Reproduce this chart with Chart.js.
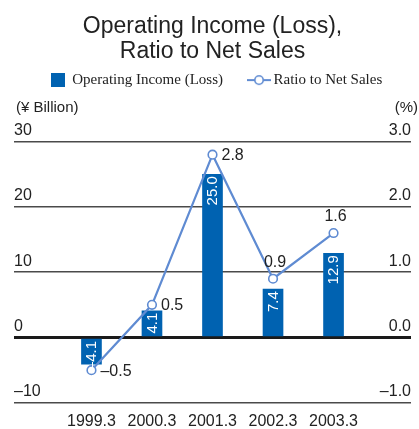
<!DOCTYPE html>
<html>
<head>
<meta charset="utf-8">
<script src="https://cdn.jsdelivr.net/npm/chart.js@4"></script>
<style>
  html, body { margin: 0; padding: 0; background: #fff; }
  #wrap { width: 419px; height: 429px; }
</style>
</head>
<body>
<div id="wrap"><canvas id="c" width="419" height="429"></canvas></div>
<script>
// Fiscal years (March year-end)
const categories = ['1999.3', '2000.3', '2001.3', '2002.3', '2003.3'];
// Operating income (loss), ¥ billion
const operatingIncome = [-4.1, 4.1, 25.0, 7.4, 12.9];
// Operating income to net sales, %
const ratioToNetSales = [-0.5, 0.5, 2.8, 0.9, 1.6];
// Axis tick values
const incomeTicks = [-10, 0, 10, 20, 30];
const ratioTicks = [-1.0, 0.0, 1.0, 2.0, 3.0];

const BAR_BLUE = '#0062b1';
const LINE_BLUE = '#5f8bd2';
const TEXT = '#222222';
const SANS = '"Liberation Sans", Arial, Helvetica, sans-serif';
const SERIF = '"Liberation Serif", "Times New Roman", serif';

// where each ratio label sits relative to its marker
const ratioLabelPlacement = ['right', 'right', 'right', 'top', 'top'];

const fmt = v => (v < 0 ? '\u2013' + Math.abs(v).toFixed(1) : v.toFixed(1));
const fmtInt = v => (v < 0 ? '\u2013' + Math.abs(v) : String(v));

// legend swatches
function squareSwatch() {
  const c = document.createElement('canvas');
  c.width = 14; c.height = 14;
  const g = c.getContext('2d');
  g.fillStyle = BAR_BLUE;
  g.fillRect(0, 0, 14, 14);
  return c;
}
function lineSwatch() {
  const c = document.createElement('canvas');
  c.width = 24; c.height = 12;
  const g = c.getContext('2d');
  g.strokeStyle = LINE_BLUE;
  g.lineWidth = 2;
  g.beginPath(); g.moveTo(0, 6); g.lineTo(24, 6); g.stroke();
  g.beginPath(); g.arc(12, 6, 4.2, 0, Math.PI * 2);
  g.fillStyle = '#fff'; g.fill();
  g.lineWidth = 1.6; g.stroke();
  return c;
}

// value labels on bars and line markers
const valueLabels = {
  id: 'valueLabels',
  afterDatasetsDraw(chart) {
    const ctx = chart.ctx;
    ctx.save();
    // bar labels, rotated, white, inside the top of each bar
    const barMeta = chart.getDatasetMeta(1);
    ctx.font = '15px ' + SANS;
    ctx.fillStyle = '#ffffff';
    ctx.textAlign = 'right';
    ctx.textBaseline = 'middle';
    barMeta.data.forEach((el, i) => {
      const top = Math.min(el.y, el.base);
      ctx.save();
      ctx.translate(el.x + 0.5, top + 2);
      ctx.rotate(-Math.PI / 2);
      ctx.fillText(fmt(operatingIncome[i]), 0, 0);
      ctx.restore();
    });
    // line labels
    const lineMeta = chart.getDatasetMeta(0);
    ctx.font = '16px ' + SANS;
    ctx.fillStyle = TEXT;
    lineMeta.data.forEach((el, i) => {
      const txt = fmt(ratioToNetSales[i]);
      if (ratioLabelPlacement[i] === 'right') {
        ctx.textAlign = 'left';
        ctx.textBaseline = 'middle';
        ctx.fillText(txt, el.x + 9, el.y + 1);
      } else {
        ctx.textAlign = 'center';
        ctx.textBaseline = 'middle';
        ctx.fillText(txt, el.x + 2, el.y - 16);
      }
    });
    ctx.restore();
  }
};

// unit captions above the two value axes
const unitCaptions = {
  id: 'unitCaptions',
  afterDraw(chart) {
    const ctx = chart.ctx;
    const a = chart.chartArea;
    ctx.save();
    ctx.font = '15px ' + SANS;
    ctx.fillStyle = TEXT;
    ctx.textBaseline = 'middle';
    ctx.textAlign = 'left';
    ctx.fillText('(\u00a5 Billion)', a.left + 2, a.top - 34);
    ctx.textAlign = 'right';
    ctx.fillText('(%)', a.right + 7, a.top - 34);
    ctx.restore();
  }
};

// room between legend and plot for the unit captions, legend nudged right
const legendGap = {
  id: 'legendGap',
  beforeInit(chart) {
    const legend = chart.legend;
    const fit = legend.fit;
    legend.fit = function () {
      fit.call(this);
      this.height += 44;
    };
    const draw = legend.draw;
    legend.draw = function (area) {
      this.ctx.save();
      this.ctx.translate(4, 0);
      draw.call(this, area);
      this.ctx.restore();
    };
  }
};

new Chart(document.getElementById('c'), {
  type: 'bar',
  data: {
    datasets: [
      {
        type: 'line',
        label: 'Ratio to Net Sales',
        data: ratioToNetSales.map((v, i) => ({ x: i, y: v })),
        yAxisID: 'y1',
        borderColor: LINE_BLUE,
        borderWidth: 2.2,
        pointRadius: 4.3,
        pointBorderWidth: 1.6,
        pointBackgroundColor: '#ffffff',
        pointBorderColor: LINE_BLUE,
        tension: 0,
        order: 0
      },
      {
        type: 'bar',
        label: 'Operating Income (Loss)',
        data: operatingIncome.map((v, i) => ({ x: i, y: v })),
        yAxisID: 'y',
        backgroundColor: BAR_BLUE,
        borderWidth: 0,
        barThickness: 20,
        order: 1
      }
    ]
  },
  options: {
    responsive: false,
    animation: false,
    devicePixelRatio: 1,
    layout: { padding: { left: 14, right: 8, top: 0, bottom: -11 } },
    plugins: {
      tooltip: { enabled: false },
      title: {
        display: true,
        text: ['Operating Income (Loss),', 'Ratio to Net Sales'],
        color: TEXT,
        font: { family: SANS, size: 23, weight: 'normal', lineHeight: 1.1 },
        padding: { top: 14, bottom: -21 }
      },
      legend: {
        display: true,
        position: 'top',
        labels: {
          color: TEXT,
          font: { family: SERIF, size: 15 },
          usePointStyle: true,
          boxWidth: 14,
          boxHeight: 14,
          padding: 29,
          generateLabels() {
            return [
              { text: 'Operating Income (Loss)', pointStyle: squareSwatch(), fillStyle: BAR_BLUE, strokeStyle: BAR_BLUE, lineWidth: 0, datasetIndex: 1, fontColor: TEXT },
              { text: 'Ratio to Net Sales', pointStyle: lineSwatch(), fillStyle: '#fff', strokeStyle: LINE_BLUE, lineWidth: 0, datasetIndex: 0, fontColor: TEXT }
            ];
          }
        }
      }
    },
    scales: {
      x: {
        type: 'linear',
        offset: false,
        min: -1.28,
        max: 5.28,
        grid: { display: false, drawTicks: false },
        border: { display: false },
        ticks: {
          stepSize: 1,
          includeBounds: false,
          autoSkip: false,
          maxRotation: 0,
          color: TEXT,
          font: { family: SANS, size: 16 },
          padding: 9,
          callback: v => (Number.isInteger(v) && categories[v] !== undefined ? categories[v] : '')
        }
      },
      y: {
        position: 'left',
        min: incomeTicks[0],
        max: incomeTicks[incomeTicks.length - 1],
        afterBuildTicks: s => { s.ticks = incomeTicks.map(v => ({ value: v })); },
        border: { display: false },
        grid: {
          drawTicks: false,
          color: c => (c.tick && c.tick.value === 0 ? '#1a1a1a' : '#4a4a4a'),
          lineWidth: c => (c.tick && c.tick.value === 0 ? 3 : 1.5)
        },
        ticks: {
          mirror: true,
          padding: 0,
          labelOffset: -11,
          color: TEXT,
          font: { family: SANS, size: 16 },
          callback: v => fmtInt(v)
        }
      },
      y1: {
        position: 'right',
        min: ratioTicks[0],
        max: ratioTicks[ratioTicks.length - 1],
        afterBuildTicks: s => { s.ticks = ratioTicks.map(v => ({ value: v })); },
        border: { display: false },
        grid: { display: false, drawTicks: false },
        ticks: {
          mirror: true,
          padding: 0,
          labelOffset: -11,
          color: TEXT,
          font: { family: SANS, size: 16 },
          callback: v => fmt(v)
        }
      }
    }
  },
  plugins: [legendGap, valueLabels, unitCaptions]
});
</script>
</body>
</html>
